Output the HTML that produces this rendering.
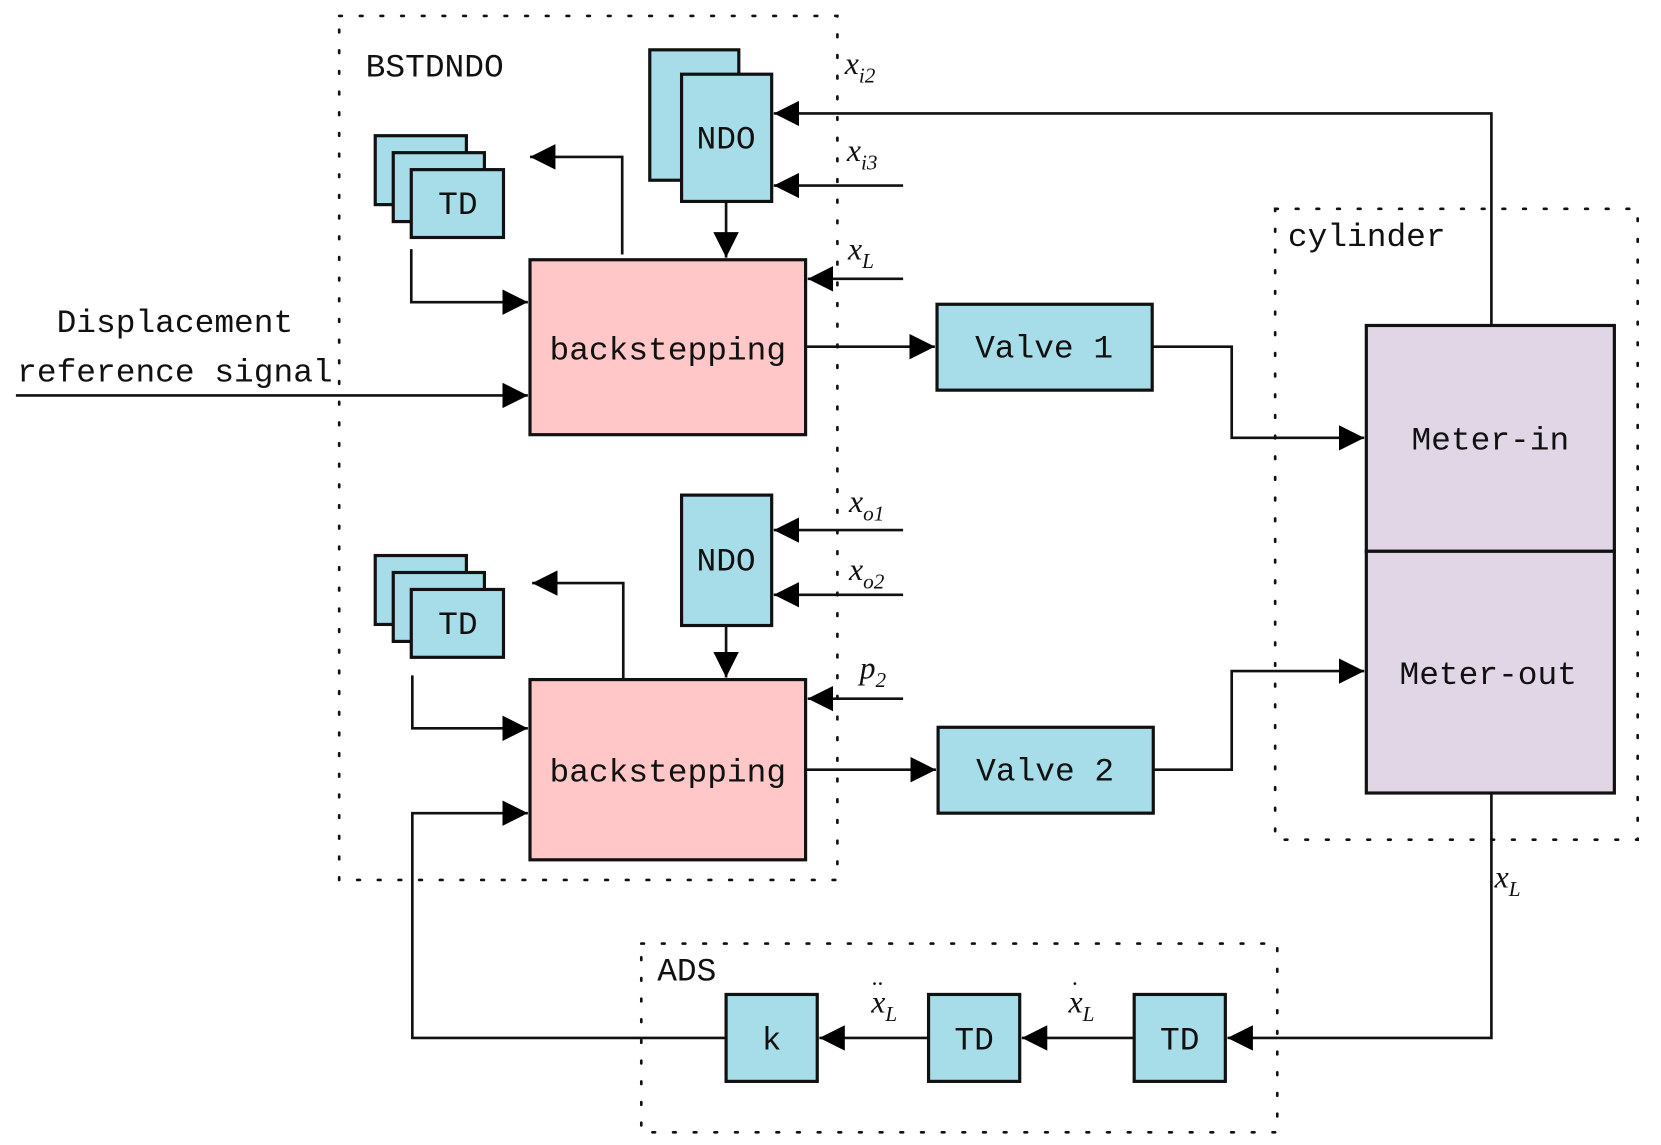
<!DOCTYPE html>
<html><head><meta charset="utf-8"><style>
html,body{margin:0;padding:0;background:#fff;}
svg{display:block;}
.m{font-family:"Liberation Mono",monospace;font-size:31px;fill:#111;}
.i{font-family:"Liberation Serif",serif;font-style:italic;font-size:30px;fill:#111;}
.s{font-size:20px;}
</style></head><body>
<svg width="1661" height="1145" viewBox="0 0 1567 1080" preserveAspectRatio="none" xmlns="http://www.w3.org/2000/svg">
<defs>
<marker id="A" markerWidth="24" markerHeight="24" refX="24" refY="12" orient="auto" markerUnits="userSpaceOnUse" viewBox="0 0 24 24"><path d="M0,0 L24,12 L0,24z" fill="#000"/></marker></defs>
<g fill="none" stroke="#111" stroke-width="2.5" stroke-dasharray="2.5 17" stroke-linecap="round">
<rect x="320" y="15" width="470" height="815"/>
<rect x="1203" y="197" width="342" height="595"/>
<rect x="605" y="890" width="600" height="178"/>
</g>
<g stroke="#111" stroke-width="3">
<rect x="613" y="47" width="84" height="123" fill="#a6dde8"/>
<rect x="643" y="70" width="85" height="120" fill="#a6dde8"/>
<rect x="354" y="128" width="86" height="65" fill="#a6dde8"/>
<rect x="371" y="144" width="86" height="65" fill="#a6dde8"/>
<rect x="388" y="160" width="87" height="64" fill="#a6dde8"/>
<rect x="500" y="245" width="260" height="165" fill="#ffc7c7"/>
<rect x="643" y="467" width="85" height="123" fill="#a6dde8"/>
<rect x="354" y="524" width="86" height="65" fill="#a6dde8"/>
<rect x="371" y="540" width="86" height="65" fill="#a6dde8"/>
<rect x="388" y="556" width="87" height="64" fill="#a6dde8"/>
<rect x="500" y="641" width="260" height="170" fill="#ffc7c7"/>
<rect x="884" y="287" width="203" height="81" fill="#a6dde8"/>
<rect x="885" y="686" width="203" height="81" fill="#a6dde8"/>
<rect x="1289" y="307" width="234" height="213" fill="#e1d6e6"/>
<rect x="1289" y="520" width="234" height="228" fill="#e1d6e6"/>
<rect x="1070" y="938" width="86" height="82" fill="#a6dde8"/>
<rect x="876" y="938" width="86" height="82" fill="#a6dde8"/>
<rect x="685" y="938" width="86" height="82" fill="#a6dde8"/>
</g>
<g fill="none" stroke="#111" stroke-width="2.5" marker-end="url(#A)">
<path d="M587,240 V148 H500"/>
<path d="M388,235 V285 H498"/>
<path d="M685,190 V243"/>
<path d="M1407,307 V107 H730"/>
<path d="M852,175 H730"/>
<path d="M852,263 H762"/>
<path d="M15,373 H498"/>
<path d="M760,327 H882"/>
<path d="M1087,327 H1162 V413 H1287"/>
<path d="M685,590 V639"/>
<path d="M852,500 H730"/>
<path d="M852,561 H730"/>
<path d="M852,659 H762"/>
<path d="M588,640 V550 H502"/>
<path d="M389,637 V687 H498"/>
<path d="M760,726 H883"/>
<path d="M1088,726 H1162 V633 H1287"/>
<path d="M1407,748 V979 H1158"/>
<path d="M1070,979 H964"/>
<path d="M876,979 H773"/>
<path d="M685,979 H389 V767 H498"/>
</g>
<text class="m" x="345" y="72">BSTDNDO</text>
<text class="m" x="685" y="140" text-anchor="middle">NDO</text>
<text class="m" x="432" y="202" text-anchor="middle">TD</text>
<text class="m" x="630" y="339" text-anchor="middle">backstepping</text>
<text class="m" x="165" y="313" text-anchor="middle">Displacement</text>
<text class="m" x="165" y="360" text-anchor="middle">reference signal</text>
<text class="m" x="985" y="337" text-anchor="middle">Valve 1</text>
<text class="m" x="986" y="736" text-anchor="middle">Valve 2</text>
<text class="m" x="1215" y="232">cylinder</text>
<text class="m" x="1406" y="424" text-anchor="middle">Meter-in</text>
<text class="m" x="1404" y="645" text-anchor="middle">Meter-out</text>
<text class="m" x="685" y="538" text-anchor="middle">NDO</text>
<text class="m" x="432" y="598" text-anchor="middle">TD</text>
<text class="m" x="630" y="737" text-anchor="middle">backstepping</text>
<text class="m" x="620" y="925">ADS</text>
<text class="m" x="1113" y="990" text-anchor="middle">TD</text>
<text class="m" x="919" y="990" text-anchor="middle">TD</text>
<text class="m" x="728" y="990" text-anchor="middle">k</text>
<text class="i" x="797" y="70">x<tspan class="s" dy="8">i2</tspan></text>
<text class="i" x="799" y="152">x<tspan class="s" dy="8">i3</tspan></text>
<text class="i" x="800" y="245">x<tspan class="s" dy="8">L</tspan></text>
<text class="i" x="801" y="483">x<tspan class="s" dy="8">o1</tspan></text>
<text class="i" x="801" y="547">x<tspan class="s" dy="8">o2</tspan></text>
<text class="i" x="811" y="640">p<tspan class="s" dy="8">2</tspan></text>
<text class="i" x="1410" y="837">x<tspan class="s" dy="8">L</tspan></text>
<text class="i" x="1008" y="955">x<tspan class="s" dy="8">L</tspan></text>
<text class="i" x="1011" y="935" style="font-size:22px">·</text>
<text class="i" x="822" y="955">x<tspan class="s" dy="8">L</tspan></text>
<text class="i" x="822" y="935" style="font-size:22px">··</text>
</svg>
</body></html>
